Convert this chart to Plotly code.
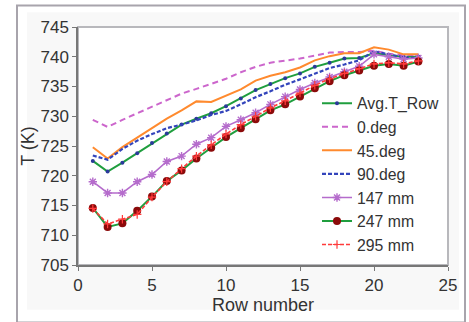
import plotly.graph_objects as go

rows = list(range(1, 24))

avg_row = [722.5, 720.7, 722.2, 723.8, 725.5, 727.1, 728.6, 729.6, 730.5, 731.7, 733.0, 734.4,
           735.4, 736.4, 737.2, 738.3, 739.0, 739.7, 739.8, 740.6, 740.3, 740.0, 740.0]
deg0 = [729.4, 728.2, 729.4, 730.5, 731.6, 732.7, 733.8, 734.6, 735.4, 736.3, 737.4, 738.3,
        739.0, 739.3, 739.7, 740.2, 740.7, 740.8, 740.8, 741.0, 740.5, 740.3, 740.3]
deg45 = [724.8, 722.9, 724.8, 726.4, 728.0, 729.6, 731.0, 732.5, 732.4, 733.5, 734.5, 736.0,
         736.8, 737.4, 738.2, 739.4, 740.1, 740.6, 740.6, 741.6, 741.2, 740.4, 740.4]
deg90 = [723.4, 722.7, 724.5, 725.9, 727.0, 728.0, 728.6, 729.3, 730.2, 730.9, 732.0, 733.2,
         734.2, 735.3, 736.2, 737.2, 738.1, 738.7, 739.4, 740.9, 740.4, 739.9, 739.8]
mm147 = [719.0, 717.1, 717.1, 719.0, 720.2, 722.4, 723.3, 725.3, 726.4, 728.3, 729.4, 730.6,
         732.0, 733.3, 734.5, 735.6, 736.6, 737.5, 738.4, 740.4, 740.0, 739.6, 739.8]
mm247 = [714.6, 711.4, 712.0, 714.1, 716.5, 719.1, 720.9, 722.9, 724.7, 726.5, 728.0, 729.5,
         731.0, 732.0, 733.3, 734.7, 735.9, 736.9, 737.7, 738.5, 738.8, 738.5, 739.2]
mm295 = [714.5, 711.9, 712.7, 713.5, 716.4, 719.0, 721.2, 723.3, 725.2, 727.0, 728.6, 730.0,
         731.4, 732.6, 733.9, 735.2, 736.3, 737.2, 738.0, 738.8, 739.0, 738.8, 739.3]

x_ticks = [0, 5, 10, 15, 20, 25]
y_ticks = [705, 710, 715, 720, 725, 730, 735, 740, 745]

W, H = 469, 322
L, R, T, B = 78, 448, 27, 271

fig = go.Figure()
fig.add_trace(go.Scatter(x=rows, y=avg_row, name="Avg.T_Row", mode="lines+markers",
                         line=dict(color="#1f9e3e", width=2),
                         marker=dict(color="#2b3a9a", size=4)))
fig.add_trace(go.Scatter(x=rows, y=deg0, name="0.deg", mode="lines",
                         line=dict(color="#cc66cc", width=2, dash="6px,4px")))
fig.add_trace(go.Scatter(x=rows, y=deg45, name="45.deg", mode="lines",
                         line=dict(color="#ff8a2e", width=2)))
fig.add_trace(go.Scatter(x=rows, y=deg90, name="90.deg", mode="lines",
                         line=dict(color="#3344bb", width=2.2, dash="4px,2px")))
fig.add_trace(go.Scatter(x=rows, y=mm147, name="147 mm", mode="lines+markers",
                         line=dict(color="#b56ccc", width=1.6),
                         marker=dict(symbol="asterisk-open", size=7,
                                     line=dict(color="#a050c0", width=1.4))))
fig.add_trace(go.Scatter(x=rows, y=mm247, name="247 mm", mode="lines+markers",
                         line=dict(color="#1f9e3e", width=2),
                         marker=dict(color="#8b0a0a", size=8)))
fig.add_trace(go.Scatter(x=rows, y=mm295, name="295 mm", mode="lines+markers",
                         line=dict(color="#ff3b3b", width=1.6, dash="4px,2px"),
                         marker=dict(symbol="cross-thin-open", size=6,
                                     line=dict(color="#2aa8c8", width=1.2))))

def px(xp):
    return (xp - L) / (R - L)

def py(yp):
    return (B - yp) / (B - T)

shapes = [
    # faint background panel
    dict(type="rect", xref="paper", yref="paper", layer="below",
         x0=px(27), x1=px(459), y0=py(317), y1=py(12),
         fillcolor="#f8f8f8", line=dict(width=0)),
    # outer frame
    dict(type="rect", xref="paper", yref="paper", layer="below",
         x0=px(17), x1=px(465), y0=py(330), y1=py(5),
         fillcolor="rgba(0,0,0,0)", line=dict(color="#a8a4ac", width=2)),
    # plot area
    dict(type="rect", xref="paper", yref="paper", layer="below",
         x0=0, x1=1, y0=0, y1=1, fillcolor="white",
         line=dict(color="#b8b8bc", width=2)),
]

fig.update_layout(
    width=W, height=H,
    margin=dict(l=L, r=W - R, t=T, b=H - B, pad=0),
    paper_bgcolor="white", plot_bgcolor="rgba(0,0,0,0)",
    font=dict(family="Liberation Sans, Arial, sans-serif", size=17, color="#333333"),
    shapes=shapes,
    showlegend=True,
    legend=dict(x=px(317), y=py(88), xanchor="left", yanchor="top",
                bgcolor="rgba(0,0,0,0)", borderwidth=0,
                font=dict(size=15.8, color="#333333"), tracegroupgap=0,
                itemwidth=30),
    xaxis=dict(range=[0, 25], tickvals=x_ticks, showgrid=False, zeroline=False,
               showline=True, linecolor="#777777", linewidth=1.5,
               ticks="outside", ticklen=4, tickcolor="#777777",
               title=dict(text="Row number", font=dict(size=18), standoff=2)),
    yaxis=dict(range=[705, 745], tickvals=y_ticks, showgrid=False, zeroline=False,
               showline=True, linecolor="#777777", linewidth=1.5,
               ticks="outside", ticklen=4, tickcolor="#777777",
               title=dict(text="T (K)", font=dict(size=18), standoff=1)),
)

fig.write_html("out.html")
